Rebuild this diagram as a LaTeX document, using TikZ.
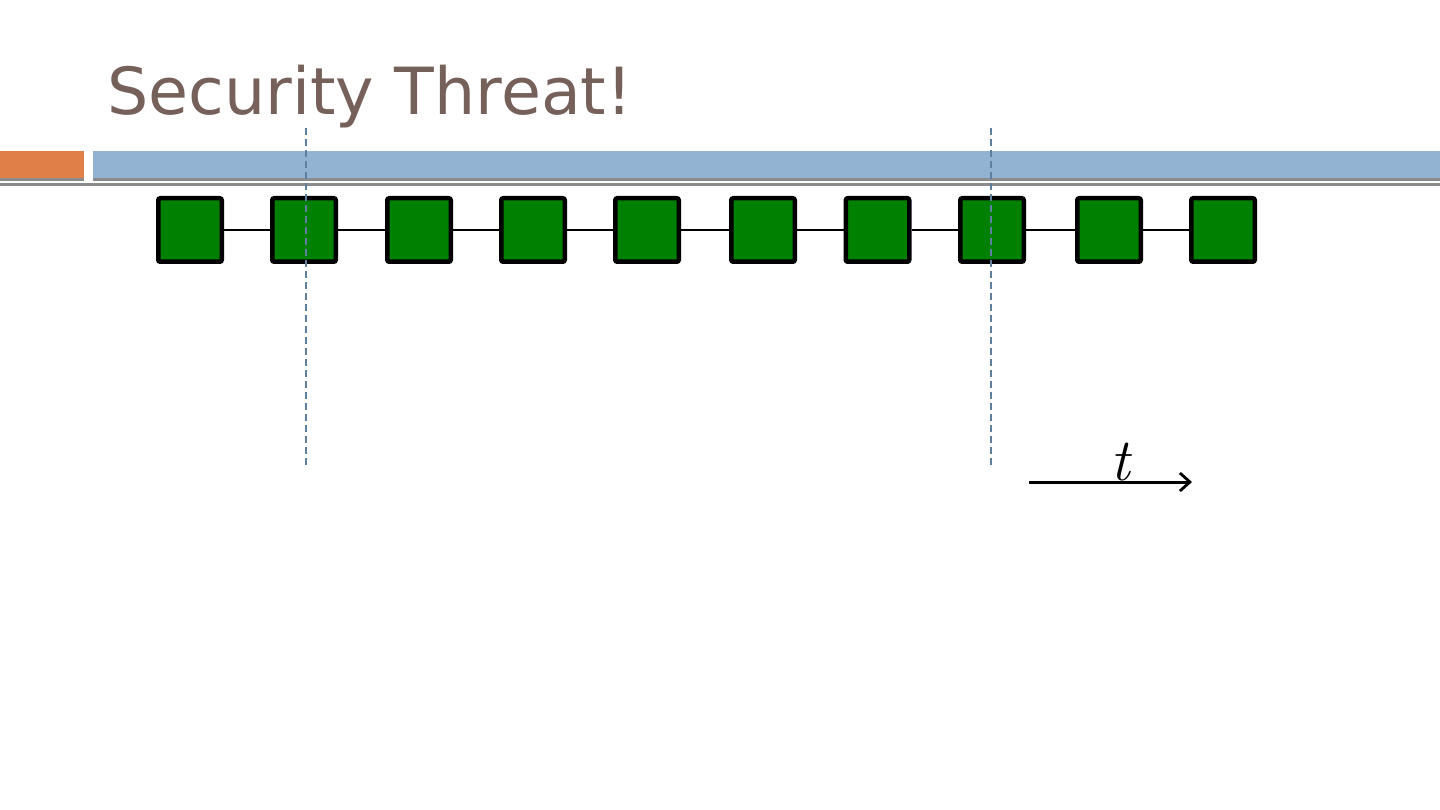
\documentclass[tikz,border=0pt]{standalone}
\usepackage{fontspec}
\setmainfont{DejaVu Sans}
\newfontfamily\titlefont{DejaVu Sans}
\newfontfamily\lmfont{Latin Modern Roman}
\usetikzlibrary{arrows.meta}
\definecolor{titlebrown}{HTML}{76605A}
\definecolor{barorange}{HTML}{E07F48}
\definecolor{barblue}{HTML}{92B3D2}
\definecolor{bargray}{HTML}{8C8C8C}
\definecolor{blockgreen}{HTML}{008000}
\definecolor{dashblue}{HTML}{5F7F9F}
\tikzset{
  block/.style={draw=black, fill=blockgreen, line width=4.5pt, rounded corners=2pt, minimum size=63.5pt, inner sep=0pt},
  link/.style={draw=black, line width=2.8pt},
  cut/.style={draw=dashblue, line width=1.2pt, dash pattern=on 7pt off 4pt},
}
\begin{document}
\begin{tikzpicture}[x=1pt,y=-1pt]
\useasboundingbox (0,0) rectangle (1440,810);
% header bars
\fill[barorange] (0,151) rectangle (84,178);
\fill[bargray] (0,178) rectangle (84,181);
\fill[barblue] (93,151) rectangle (1440,178);
\fill[bargray] (93,178) rectangle (1440,181);
\fill[bargray] (0,183.5) rectangle (1440,186.5);
% title
\node[anchor=base west, inner sep=0pt, text=titlebrown, font=\titlefont\fontsize{65}{72}\selectfont] (title) at (107,115) {Security Threat!};
% blocks
\foreach \i/\x in {1/190,2/304,3/419,4/533,5/647,6/763,7/877.5,8/992,9/1109,10/1223}
  \node[block] (b\i) at (\x,230) {};
\foreach \i [evaluate=\i as \j using int(\i+1)] in {1,...,9}
  \draw[link] (b\i.east) -- (b\j.west);
% dashed cut lines
\coordinate (c1t) at (306,128); \coordinate (c1b) at (306,466);
\coordinate (c2t) at (991,128); \coordinate (c2b) at (991,466);
\draw[cut] (c1t) -- (c1b);
\draw[cut] (c2t) -- (c2b);
% time arrow
\coordinate (ta) at (1029,482); \coordinate (tb) at (1192,482);
\draw[line width=3pt, -{Straight Barb[length=10pt,width=18pt,line width=2.8pt]}] (ta) -- (tb);
\node[anchor=base, inner sep=0pt, font=\lmfont\itshape\fontsize{60}{64}\selectfont] (tlab) at (1120,480) {t};
\end{tikzpicture}
\end{document}
